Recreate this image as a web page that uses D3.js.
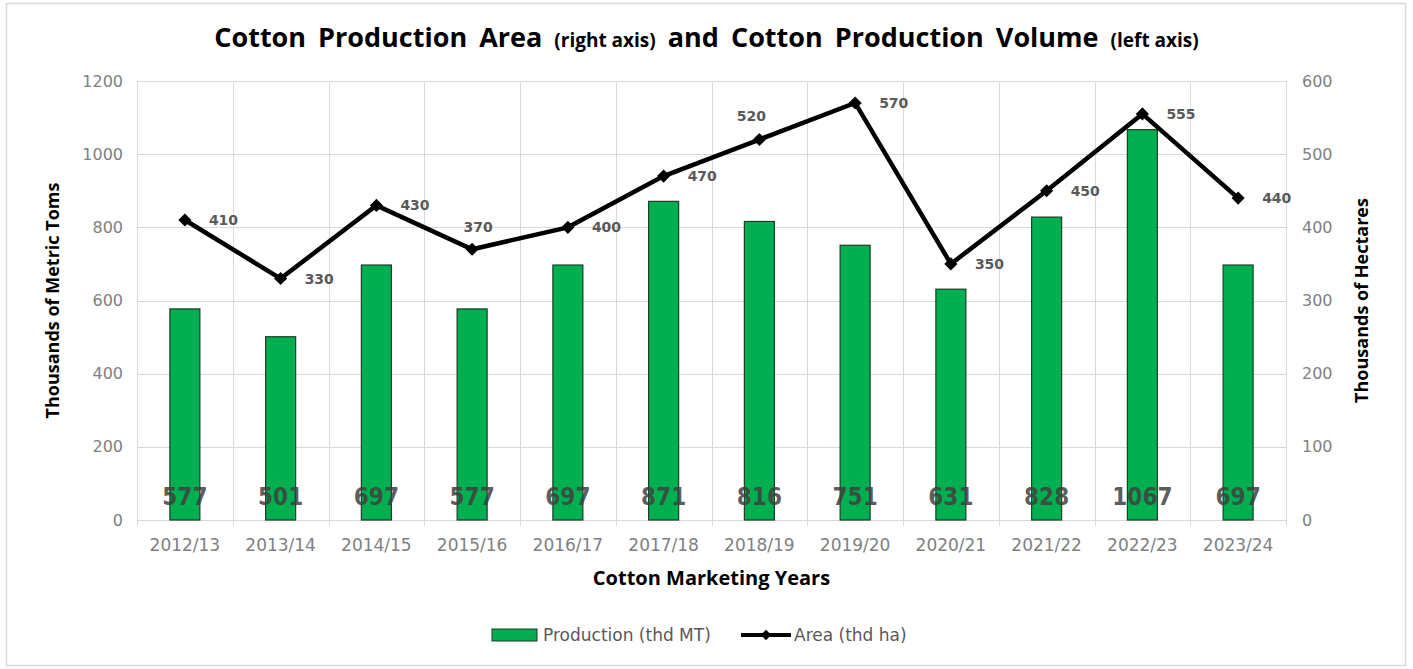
<!DOCTYPE html>
<html>
<head>
<meta charset="utf-8">
<script src="https://cdn.jsdelivr.net/npm/d3@7"></script>
<style>
  body { margin: 0; background: #fff; }
  svg { display: block; }
</style>
</head>
<body>
<div class="svg"></div>
<script>
var years = ['2012/13', '2013/14', '2014/15', '2015/16', '2016/17', '2017/18', '2018/19', '2019/20', '2020/21', '2021/22', '2022/23', '2023/24'];
var production = [577, 501, 697, 577, 697, 871, 816, 751, 631, 828, 1067, 697];
var area = [410, 330, 430, 370, 400, 470, 520, 570, 350, 450, 555, 440];
var leftTicks = [0, 200, 400, 600, 800, 1000, 1200];
var rightTicks = [0, 100, 200, 300, 400, 500, 600];

var chart = (function chart() {
    var width = 1413,
        height = 669;
    var margin = { top: 81, right: 127, bottom: 149, left: 137 };
    var tickFont = '"DejaVu Sans", Verdana, sans-serif';
    var boldFont = '"Open Sans", Lato, sans-serif';

    var svg = d3.select('div.svg')
        .append('svg')
        .attr('width', width)
        .attr('height', height)

    // outer chart frame
    svg.append('rect')
        .attr('x', 6.5).attr('y', 3.5)
        .attr('width', 1399).attr('height', 662)
        .attr('fill', 'white')
        .attr('stroke', '#d9d9d9')
        .attr('stroke-width', 1.5)

    var x = d3.scaleBand()
        .domain(years)
        .range([margin.left, width - margin.right])

    var yLeft = d3.scaleLinear()
        .domain([0, 1200])
        .range([height - margin.bottom, margin.top])

    var yRight = d3.scaleLinear()
        .domain([0, 600])
        .range([height - margin.bottom, margin.top])

    // grid
    var grid = svg.append('g').attr('stroke', '#d9d9d9').attr('stroke-width', 1)
    grid.selectAll('.hgrid')
        .data(leftTicks)
        .enter()
        .append('line')
        .attr('x1', margin.left)
        .attr('x2', width - margin.right)
        .attr('y1', d => Math.round(yLeft(d)) + 0.5)
        .attr('y2', d => Math.round(yLeft(d)) + 0.5)
    grid.selectAll('.vgrid')
        .data(years.concat(['end']))
        .enter()
        .append('line')
        .attr('x1', (d, i) => Math.round(margin.left + i * x.step()) + 0.5)
        .attr('x2', (d, i) => Math.round(margin.left + i * x.step()) + 0.5)
        .attr('y1', margin.top)
        .attr('y2', d => yLeft(0) + 6)

    // left axis
    var axL = svg.append('g')
        .attr('transform', 'translate(' + margin.left + ',0)')
        .call(d3.axisLeft(yLeft).tickValues(leftTicks).tickFormat(d3.format('d')).tickSize(0).tickPadding(14))
    axL.select('.domain').remove()
    axL.selectAll('text').attr('font-family', tickFont).attr('font-size', 16).attr('fill', '#808080')

    // right axis
    var axR = svg.append('g')
        .attr('transform', 'translate(' + (width - margin.right) + ',0)')
        .call(d3.axisRight(yRight).tickValues(rightTicks).tickSize(0).tickPadding(16))
    axR.select('.domain').remove()
    axR.selectAll('text').attr('font-family', tickFont).attr('font-size', 16).attr('fill', '#808080')

    // bottom axis
    var axB = svg.append('g')
        .attr('transform', 'translate(0,' + yLeft(0) + ')')
        .call(d3.axisBottom(x).tickSize(0).tickPadding(19))
    axB.select('.domain').remove()
    axB.selectAll('text').attr('font-family', tickFont).attr('font-size', 17).attr('fill', '#808080')

    // bars
    var barW = 30;
    svg.append('g').selectAll('rect')
        .data(production)
        .enter()
        .append('rect')
        .attr('x', (d, i) => x(years[i]) + x.bandwidth() / 2 - barW / 2)
        .attr('y', d => yLeft(d))
        .attr('width', barW)
        .attr('height', d => yLeft(0) - yLeft(d))
        .attr('fill', '#00b050')
        .attr('stroke', '#1f3d26')
        .attr('stroke-width', 1.2)

    // bar value labels
    svg.append('g').selectAll('text')
        .data(production)
        .enter()
        .append('text')
        .attr('x', (d, i) => x(years[i]) + x.bandwidth() / 2)
        .attr('y', yLeft(0) - 15)
        .attr('text-anchor', 'middle')
        .attr('font-family', '"DejaVu Sans Condensed", "DejaVu Sans", sans-serif')
        .attr('font-weight', 'bold')
        .attr('font-size', 24)
        .attr('fill', '#404040')
        .attr('fill-opacity', 0.85)
        .text(d => d)

    // area line
    var line = d3.line()
        .x((d, i) => x(years[i]) + x.bandwidth() / 2)
        .y(d => yRight(d))

    svg.append('path')
        .datum(area)
        .attr('d', line)
        .attr('fill', 'none')
        .attr('stroke', 'black')
        .attr('stroke-width', 4.5)
        .attr('stroke-linejoin', 'miter')

    svg.append('g').selectAll('path')
        .data(area)
        .enter()
        .append('path')
        .attr('d', d3.symbol().type(d3.symbolDiamond2).size(110))
        .attr('transform', (d, i) => 'translate(' + (x(years[i]) + x.bandwidth() / 2) + ',' + yRight(d) + ')')
        .attr('fill', 'black')

    // area value labels, two of them sit above the point
    var above = { '2015/16': [6, -22], '2018/19': [-8, -24] };
    svg.append('g').selectAll('text')
        .data(area)
        .enter()
        .append('text')
        .attr('x', (d, i) => x(years[i]) + x.bandwidth() / 2 + (above[years[i]] ? above[years[i]][0] : 24))
        .attr('y', (d, i) => yRight(d) + (above[years[i]] ? above[years[i]][1] : 0) + 5)
        .attr('text-anchor', (d, i) => above[years[i]] ? 'middle' : 'start')
        .attr('font-family', tickFont)
        .attr('font-weight', 'bold')
        .attr('font-size', 14)
        .attr('fill', '#595959')
        .text(d => d)

    // title
    var title = svg.append('text')
        .attr('x', width / 2)
        .attr('y', 47)
        .attr('text-anchor', 'middle')
        .attr('font-family', boldFont)
        .attr('font-weight', 'bold')
        .attr('fill', 'black')
    title.append('tspan').attr('font-size', 27).attr('word-spacing', 5).text('Cotton Production Area ')
    title.append('tspan').attr('font-size', 19).text('(right axis)')
    title.append('tspan').attr('font-size', 27).attr('word-spacing', 5).text(' and Cotton Production Volume ')
    title.append('tspan').attr('font-size', 19).text('(left axis)')

    // axis titles
    svg.append('text')
        .attr('transform', 'translate(59,' + (margin.top + (yLeft(0) - margin.top) / 2) + ') rotate(-90)')
        .attr('text-anchor', 'middle')
        .attr('font-family', boldFont)
        .attr('font-weight', 'bold')
        .attr('font-size', 18)
        .text('Thousands of Metric Toms')

    svg.append('text')
        .attr('transform', 'translate(1368,' + (margin.top + (yLeft(0) - margin.top) / 2) + ') rotate(-90)')
        .attr('text-anchor', 'middle')
        .attr('font-family', boldFont)
        .attr('font-weight', 'bold')
        .attr('font-size', 18)
        .text('Thousands of Hectares')

    svg.append('text')
        .attr('x', margin.left + (width - margin.right - margin.left) / 2)
        .attr('y', 585)
        .attr('text-anchor', 'middle')
        .attr('font-family', boldFont)
        .attr('font-weight', 'bold')
        .attr('font-size', 20)
        .text('Cotton Marketing Years')

    // legend
    var legend = svg.append('g').attr('transform', 'translate(0,635)')
    legend.append('rect')
        .attr('x', 492).attr('y', -6)
        .attr('width', 45).attr('height', 12)
        .attr('fill', '#00b050')
        .attr('stroke', '#1f3d26')
    legend.append('text')
        .attr('x', 543).attr('y', 6)
        .attr('font-family', tickFont)
        .attr('font-size', 17)
        .attr('fill', '#595959')
        .text('Production (thd MT)')
    legend.append('line')
        .attr('x1', 741).attr('x2', 791)
        .attr('y1', 0).attr('y2', 0)
        .attr('stroke', 'black')
        .attr('stroke-width', 4)
    legend.append('path')
        .attr('d', d3.symbol().type(d3.symbolDiamond2).size(70))
        .attr('transform', 'translate(766,0)')
    legend.append('text')
        .attr('x', 794).attr('y', 6)
        .attr('font-family', tickFont)
        .attr('font-size', 17)
        .attr('fill', '#595959')
        .text('Area (thd ha)')
})();
</script>
</body>
</html>
